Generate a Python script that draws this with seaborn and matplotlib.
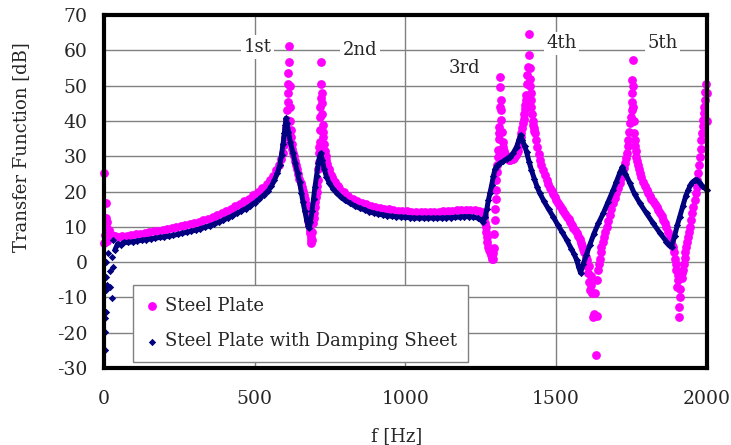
import numpy as np
import pandas as pd
import matplotlib
matplotlib.use("Agg")
import matplotlib.pyplot as plt
import seaborn as sns

# Steel plate (undamped): (f [Hz], dB), split by region
steel_low = [(0, 25.2), (1, 5.4), (3, 7.7), (5, 16.7), (6, 12.5), (8, 10.0), (9, 6.0),
             (11, 11.5), (13, 8.5), (15, 7.1), (18, 9.1), (21, 8.0), (25, 7.6), (30, 7.4),
             (38, 7.3), (48, 7.2), (60, 7.3), (75, 7.5), (90, 7.7), (105, 7.9), (120, 8.1),
             (135, 8.3), (150, 8.5), (165, 8.7), (180, 8.9), (195, 9.1), (210, 9.3),
             (225, 9.6), (240, 9.9), (255, 10.2), (270, 10.5), (285, 10.8), (300, 11.1),
             (315, 11.5), (330, 11.9), (345, 12.3), (360, 12.8), (375, 13.3), (390, 13.9),
             (405, 14.5), (420, 15.1), (435, 15.8), (450, 16.5), (465, 17.2), (480, 18.0),
             (495, 18.9), (510, 19.8), (525, 20.9), (540, 22.1), (552, 23.3), (562, 24.5),
             (572, 26.0)]
steel_modes12 = [(580, 27.5), (587, 29.2), (593, 31.0), (598, 33.2), (602, 35.5), (605, 38.0),
                 (607, 40.3), (608, 43.1), (609, 45.4), (610, 48.0), (611, 50.6), (612, 53.5),
                 (613, 56.7), (614, 61.2), (616, 50.0), (617, 44.0), (618, 40.0), (619, 37.5),
                 (621, 35.5), (623, 33.5), (625, 32.0), (627, 31.0), (630, 30.0), (633, 28.8),
                 (636, 27.6), (640, 26.3), (644, 25.0), (648, 23.7), (652, 22.5), (656, 21.4),
                 (660, 20.3), (663, 19.0), (666, 17.8), (669, 16.6), (671, 15.7), (674, 14.3),
                 (676, 13.0), (678, 11.8), (680, 10.5), (682, 9.2), (684, 8.2), (686, 7.0),
                 (687, 5.4), (688, 6.4), (690, 6.2), (691, 8.5), (693, 11.0), (695, 12.5),
                 (697, 14.0), (699, 15.5), (701, 17.0), (703, 18.5), (705, 20.0), (707, 21.6),
                 (709, 23.3), (711, 26.5), (712, 28.5), (713, 30.8), (714, 32.5), (715, 34.0),
                 (716, 37.4), (717, 41.2), (718, 44.0), (719, 46.4), (720, 50.6), (721, 56.6),
                 (722, 48.0), (723, 45.0), (724, 42.0), (725, 39.0), (726, 37.0), (727, 35.5),
                 (729, 33.5), (732, 31.5), (735, 30.2), (738, 29.0), (741, 27.8), (745, 26.5),
                 (748, 25.6), (752, 24.8), (756, 24.0), (760, 23.3), (765, 22.6), (770, 22.0),
                 (775, 21.5), (780, 21.0)]
steel_mid = [(795, 19.8), (810, 18.8), (825, 18.0), (840, 17.3), (855, 16.8), (870, 16.4),
             (885, 16.0), (900, 15.7), (915, 15.4), (930, 15.2), (945, 15.0), (960, 14.8),
             (975, 14.6), (990, 14.5), (1005, 14.4), (1020, 14.3), (1035, 14.2), (1050, 14.2),
             (1065, 14.1), (1080, 14.1), (1095, 14.2), (1110, 14.3), (1125, 14.4),
             (1140, 14.5), (1155, 14.6), (1170, 14.7), (1185, 14.8), (1200, 14.9),
             (1215, 14.9), (1230, 14.8), (1245, 14.6)]
steel_modes34 = [(1255, 14.2), (1259, 13.5), (1262, 12.5), (1264, 11.2), (1266, 10.0),
                 (1268, 8.6), (1270, 7.2), (1272, 5.8), (1275, 4.4), (1277, 3.5), (1280, 2.8),
                 (1283, 2.0), (1286, 1.5), (1288, 1.0), (1290, 0.8), (1292, 2.5), (1294, 4.0),
                 (1295, 8.0), (1297, 12.0), (1298, 15.0), (1300, 18.0), (1301, 20.5),
                 (1302, 23.3), (1304, 25.5), (1305, 27.5), (1307, 29.7), (1308, 31.8),
                 (1310, 35.0), (1311, 36.5), (1312, 38.4), (1313, 44.0), (1314, 49.7),
                 (1315, 52.4), (1316, 46.0), (1317, 43.0), (1318, 40.3), (1320, 37.0),
                 (1322, 34.0), (1324, 32.7), (1326, 31.5), (1329, 30.6), (1332, 30.0),
                 (1336, 29.5), (1340, 29.2), (1344, 29.0), (1348, 29.0), (1352, 29.1),
                 (1356, 29.3), (1360, 29.6), (1363, 30.0), (1366, 30.4), (1369, 30.8),
                 (1372, 31.6), (1375, 32.5), (1378, 33.5), (1380, 34.5), (1383, 35.5),
                 (1385, 36.5), (1388, 38.0), (1390, 39.5), (1392, 40.7), (1394, 42.0),
                 (1396, 43.5), (1397, 44.5), (1399, 46.0), (1400, 47.5), (1402, 50.6),
                 (1404, 53.0), (1407, 55.3), (1409, 58.7), (1410, 64.6), (1412, 55.0),
                 (1413, 52.0), (1414, 50.0), (1415, 48.0), (1416, 46.0), (1418, 44.0),
                 (1420, 42.0), (1422, 40.0), (1424, 39.0), (1426, 38.0), (1428, 37.2),
                 (1430, 36.5), (1434, 34.5), (1438, 32.5), (1442, 30.7), (1446, 29.0),
                 (1451, 27.5), (1456, 26.0), (1462, 24.6), (1468, 23.3), (1474, 22.1),
                 (1480, 21.0), (1485, 20.1), (1490, 19.3), (1496, 18.4), (1501, 17.6),
                 (1507, 16.8), (1512, 16.0), (1518, 15.2), (1524, 14.5), (1530, 13.7),
                 (1535, 12.9), (1541, 12.1), (1546, 11.3), (1552, 10.5), (1557, 9.8),
                 (1562, 9.0), (1568, 8.2), (1573, 7.3), (1578, 6.5), (1582, 5.5), (1586, 4.6),
                 (1590, 3.8), (1593, 3.0), (1595, 2.5), (1598, 1.5), (1601, 0.5), (1603, -1.0),
                 (1606, -3.2), (1609, -1.0), (1610, -5.5), (1612, -7.9), (1615, -4.0),
                 (1617, -6.5), (1619, -8.8), (1622, -15.5), (1625, -14.8), (1628, -8.8),
                 (1631, -26.3), (1635, -15.3), (1637, -5.0), (1640, -2.2), (1643, -0.5)]
steel_mode5 = [(1645, 1.0), (1648, 3.0), (1650, 4.4), (1654, 5.8), (1658, 7.2), (1662, 8.6),
               (1667, 10.0), (1672, 11.6), (1678, 13.3), (1683, 15.0), (1689, 16.7),
               (1694, 18.1), (1700, 19.5), (1705, 20.9), (1711, 22.3), (1716, 23.8),
               (1720, 25.2), (1724, 26.6), (1728, 28.0), (1731, 29.5), (1734, 31.0),
               (1737, 32.8), (1739, 34.6), (1742, 37.0), (1745, 39.3), (1748, 41.0),
               (1750, 43.1), (1751, 45.5), (1752, 47.8), (1753, 51.6), (1754, 57.3),
               (1755, 50.0), (1756, 44.0), (1757, 40.0), (1758, 36.5), (1760, 34.5),
               (1762, 33.0), (1764, 31.4), (1766, 29.9), (1769, 28.7), (1772, 27.5),
               (1775, 26.3), (1778, 25.2), (1783, 24.0), (1789, 22.8), (1794, 21.6),
               (1800, 20.4), (1805, 19.6), (1811, 18.8), (1816, 18.0), (1822, 17.2),
               (1827, 16.5), (1833, 15.7), (1838, 14.8), (1844, 13.9), (1850, 13.0),
               (1855, 12.0), (1860, 11.0), (1866, 10.0), (1871, 8.6), (1877, 7.2), (1881, 6.0),
               (1885, 5.0), (1888, 4.4), (1890, 2.8), (1893, 1.0), (1896, -0.5), (1899, -2.2),
               (1901, -7.0), (1903, -3.5), (1904, -5.0), (1906, -12.6), (1908, -15.5),
               (1910, -10.0), (1912, -7.5), (1916, -4.5), (1919, -3.2), (1921, -2.2),
               (1924, -0.5), (1926, 1.2), (1929, 2.8), (1932, 4.4), (1935, 5.8), (1937, 7.2),
               (1940, 8.6), (1943, 10.0), (1947, 11.9), (1951, 13.8), (1955, 15.7),
               (1960, 17.6), (1963, 19.5), (1966, 21.4), (1968, 23.3), (1971, 25.2),
               (1974, 27.5), (1977, 29.9), (1980, 32.2), (1982, 34.6), (1984, 36.5),
               (1986, 38.5), (1988, 40.3), (1990, 42.2), (1992, 44.0), (1993, 46.0),
               (1995, 48.3), (1997, 50.6), (1999, 48.0), (2000, 40.0)]

# Steel plate with damping sheet: scattered start, then the continuous curve
damp_start = [(2, -24.9), (3, -19.9), (4, -15.8), (5, -7.9), (6, -14.1), (7, -4.2), (8, 0.0),
              (10, -6.5), (12, 2.5), (20, -7.1), (20, -2.5), (25, -10.1), (25, 1.4),
              (30, -1.4), (30, 6.3)]
damp_curve = [(36, 3.4), (45, 5.2), (55, 4.9), (65, 5.6), (80, 5.6), (95, 5.8), (110, 6.0),
              (125, 6.2), (140, 6.4), (155, 6.6), (170, 6.8), (185, 7.0), (200, 7.2),
              (215, 7.4), (230, 7.6), (245, 7.9), (260, 8.2), (275, 8.5), (290, 8.8),
              (305, 9.1), (320, 9.5), (335, 9.9), (350, 10.3), (365, 10.8), (380, 11.3),
              (395, 11.9), (410, 12.5), (425, 13.1), (440, 13.8), (455, 14.5), (470, 15.2),
              (485, 16.0), (500, 16.9), (515, 17.9), (530, 19.0), (545, 20.3), (555, 21.5),
              (565, 23.2), (575, 25.2), (583, 27.5), (589, 30.5), (594, 33.5), (598, 36.5),
              (601, 38.8), (604, 40.8), (607, 39.5), (612, 36.8), (618, 34.0), (627, 31.0),
              (635, 28.0), (642, 25.3), (649, 22.6), (655, 19.5), (660, 17.1), (666, 14.5),
              (672, 12.0), (677, 10.3), (681, 9.8), (685, 11.5), (690, 14.5), (695, 18.0),
              (700, 21.4), (705, 24.5), (711, 28.0), (715, 30.0), (719, 30.8), (724, 29.0),
              (730, 26.5), (738, 24.2), (748, 22.3), (760, 20.8), (772, 19.5), (785, 18.5),
              (800, 17.5), (816, 16.7), (832, 15.9), (849, 15.3), (865, 14.8), (880, 14.3),
              (895, 13.9), (910, 13.6), (925, 13.4), (940, 13.2), (955, 13.0), (970, 12.9),
              (985, 12.8), (1000, 12.7), (1015, 12.6), (1030, 12.5), (1045, 12.5),
              (1060, 12.5), (1075, 12.5), (1090, 12.5), (1105, 12.5), (1120, 12.5),
              (1135, 12.6), (1150, 12.6), (1165, 12.7), (1180, 12.8), (1195, 12.9),
              (1210, 12.9), (1225, 12.8), (1240, 12.5), (1250, 12.0), (1258, 11.4),
              (1264, 12.8), (1270, 15.0), (1275, 17.5), (1280, 19.5), (1286, 21.8),
              (1292, 24.5), (1297, 26.3), (1303, 27.3), (1313, 28.0), (1325, 28.6),
              (1337, 29.3), (1347, 29.9), (1358, 31.0), (1369, 32.7), (1376, 34.5),
              (1382, 36.0), (1388, 34.5), (1395, 33.0), (1402, 31.2), (1410, 28.5),
              (1418, 26.1), (1428, 23.5), (1437, 21.3), (1446, 19.5), (1460, 17.2),
              (1475, 15.0), (1490, 12.9), (1505, 10.6), (1520, 8.5), (1535, 6.3), (1550, 3.8),
              (1560, 2.2), (1568, 0.6), (1575, -1.5), (1581, -3.0), (1590, -0.5), (1600, 2.0),
              (1612, 5.0), (1625, 8.0), (1640, 11.0), (1656, 13.8), (1672, 17.0),
              (1689, 20.4), (1700, 22.8), (1712, 25.5), (1720, 27.0), (1730, 25.0),
              (1745, 22.3), (1760, 19.3), (1778, 16.7), (1800, 13.8), (1822, 11.0),
              (1844, 8.3), (1866, 5.8), (1874, 4.8), (1883, 4.4), (1893, 7.5), (1902, 10.5),
              (1910, 12.9), (1920, 16.0), (1930, 18.8), (1938, 20.4), (1945, 21.8),
              (1952, 22.6), (1960, 23.2), (1966, 23.3), (1975, 22.6), (1985, 21.6),
              (2000, 20.4)]

mode_labels = ["1st", "2nd", "3rd", "4th", "5th"]
mode_label_f = [509, 849, 1196, 1518, 1853]
mode_label_db = [61.0, 60.0, 55.0, 62.0, 62.0]

steel = pd.DataFrame(steel_low + steel_modes12 + steel_mid + steel_modes34 + steel_mode5,
                     columns=["f", "db"])
damp_line = pd.DataFrame(damp_curve, columns=["f", "db"])
damp = pd.DataFrame(damp_start + damp_curve, columns=["f", "db"])

sns.set_style("white")
plt.rcParams["font.family"] = ["DejaVu Serif"]
plt.rcParams["axes.unicode_minus"] = False

fig = plt.figure(figsize=(7.31, 4.45), dpi=100)
ax = fig.add_axes([0.1423, 0.173, 0.8247, 0.793])

ax.set_axisbelow(True)
ax.grid(True, color="#808080", linewidth=1)

sns.scatterplot(data=steel, x="f", y="db", ax=ax, color="#FF00FF", marker="o",
                s=40, linewidth=0, label="Steel Plate", clip_on=False, zorder=3)
ax.plot(damp_line["f"], damp_line["db"], color="#000080", linewidth=3.6,
        solid_joinstyle="round", zorder=4)
sns.scatterplot(data=damp, x="f", y="db", ax=ax, color="#000080", marker="D",
                s=14, linewidth=0, label="Steel Plate with Damping Sheet",
                clip_on=False, zorder=4)

for txt, fx, fy in zip(mode_labels, mode_label_f, mode_label_db):
    ax.text(fx, fy, txt, fontsize=13, ha="center", va="center", zorder=5,
            bbox=dict(boxstyle="square,pad=0.15", fc="white", ec="none"))

ax.set_xlim(0, 2000)
ax.set_ylim(-30, 70)
ax.set_xticks([0, 500, 1000, 1500, 2000])
ax.set_yticks(np.arange(-30, 71, 10))
ax.tick_params(axis="both", direction="in", length=6, width=2.5, labelsize=13.5,
               color="black")
ax.tick_params(axis="y", pad=12)
ax.tick_params(axis="x", pad=16)
for sp in ax.spines.values():
    sp.set_linewidth(3)
    sp.set_color("black")
    sp.set_zorder(6)

ax.set_xlabel("f [Hz]", fontsize=13)
ax.set_ylabel("Transfer Function [dB]", fontsize=13)
ax.xaxis.set_label_coords(0.486, -0.167)
ax.yaxis.set_label_coords(-0.123, 0.625)

leg = ax.legend(loc="lower left", bbox_to_anchor=(0.048, 0.017), fontsize=13,
                frameon=True, fancybox=False, edgecolor="#808080", framealpha=1,
                handlelength=0.8, handletextpad=0.3, borderpad=0.65, labelspacing=0.95,
                borderaxespad=0)
leg.get_frame().set_linewidth(1)
leg.set_zorder(7)

fig.savefig("out.png", dpi=100)
